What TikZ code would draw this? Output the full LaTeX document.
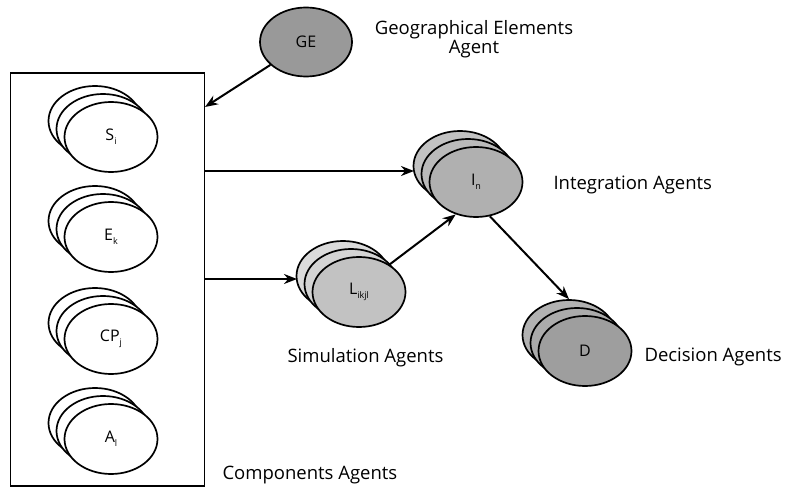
\documentclass[tikz,border=0pt]{standalone}
\usepackage{fontspec}
\setmainfont{Open Sans}
\usetikzlibrary{shapes.geometric,arrows.meta}
\newcommand\lsub[1]{\raisebox{-0.45ex}{\fontsize{9}{9}\selectfont #1}}
\begin{document}
\begin{tikzpicture}[x=1pt,y=-1pt,
  agent/.style={ellipse,draw=black,line width=1.7pt,minimum width=93pt,minimum height=70pt,inner sep=0pt,font=\fontsize{16}{16}\selectfont},
  lbl/.style={font=\fontsize{18.5}{19}\selectfont,align=center},
  link/.style={draw=black,line width=2pt,-{Stealth[length=13pt,width=10pt]}}]
\useasboundingbox (0,0) rectangle (785,489);

% components box
\node[draw=black,line width=1.9pt,minimum width=194pt,minimum height=413pt,inner sep=0pt] (comp) at (107.5,279.5) {};

% component stacks (white)
\foreach \nm/\cy/\txt in {s/137/S\lsub{i}, e/237/E\lsub{k}, cp/339/CP\lsub{j}, a/439/A\lsub{l}}{
  \node[agent,fill=white] (\nm3) at (95,\cy-16) {};
  \node[agent,fill=white] (\nm2) at (103,\cy-8) {};
  \node[agent,fill=white] (\nm) at (111,\cy) {\raisebox{-6pt}{\txt}};
}

% geographical elements agent
\node[agent,fill=black!40,minimum width=92pt,minimum height=69pt] (ge) at (306,42) {GE};

% simulation agents
\node[agent,fill=black!14] (l3) at (343,276) {};
\node[agent,fill=black!17] (l2) at (351,284) {};
\node[agent,fill=black!24] (l) at (359,292) {L\lsub{ikjl}};

% integration agents
\node[agent,fill=black!24] (in3) at (460,166) {};
\node[agent,fill=black!27] (in2) at (468,174) {};
\node[agent,fill=black!31] (in) at (476,182) {\raisebox{-4pt}{I\lsub{n}}};

% decision agents
\node[agent,fill=black!30] (d3) at (569,335) {};
\node[agent,fill=black!33] (d2) at (577,343) {};
\node[agent,fill=black!38] (d) at (585,351) {\raisebox{-6pt}{D}};

% captions
\node[lbl] (tge) at (474,39) {Geographical Elements\\Agent};
\node[lbl,anchor=west] (tin) at (550,185) {Integration Agents};
\node[lbl,anchor=west] (tl) at (284,358) {Simulation Agents};
\node[lbl,anchor=west] (td) at (641,357) {Decision Agents};
\node[lbl,anchor=west] (tc) at (219,475) {Components Agents};

% connectors
\coordinate (gein) at (205,107);
\coordinate (o1) at (205,171);
\coordinate (o2) at (205,279);
\coordinate (i1) at (414,171);
\coordinate (i2) at (297,279);
\path[link] (ge) -- (gein);
\path[link] (o1) -- (i1);
\path[link] (o2) -- (i2);
\path[link] (l.42) -- (in.238);
\path[link] (in.292) -- (d3.north);
\end{tikzpicture}
\end{document}
